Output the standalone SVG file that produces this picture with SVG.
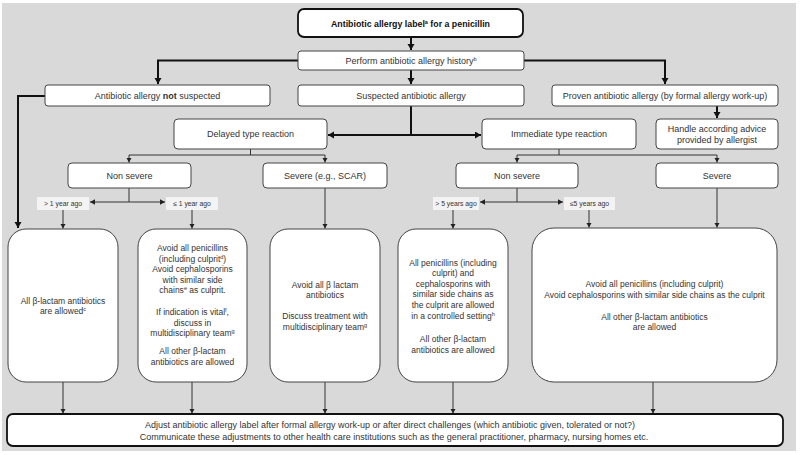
<svg xmlns="http://www.w3.org/2000/svg" width="800" height="455" viewBox="0 0 800 455">
<style>
text{font-family:"Liberation Sans",Arial,sans-serif;fill:#333;text-anchor:middle}
.n{fill:#fff;stroke:#444;stroke-width:1}
.nt{font-size:9px}
.bt{font-size:8.5px}
.lt{font-size:6.8px}
.lb{fill:#f3f3f3;stroke:none}
.thick{fill:none;stroke:#111;stroke-width:2}
.thin{fill:none;stroke:#333;stroke-width:1}
.sup{font-size:5.5px}
</style>
<defs>
<marker id="ak" markerUnits="userSpaceOnUse" markerWidth="8" markerHeight="8" refX="6" refY="3.5" orient="auto"><path d="M0,0 L6,3.5 L0,7 Z" fill="#111"/></marker>
<marker id="an" markerUnits="userSpaceOnUse" markerWidth="7" markerHeight="7" refX="5" refY="2.75" orient="auto"><path d="M0,0 L5,2.75 L0,5.5 Z" fill="#222"/></marker>
</defs>
<rect x="2" y="3" width="794" height="448" fill="#d9d9d9"/>

<g id="connectors">
<path class="thick" d="M411 37 V50" marker-end="url(#ak)"/>
<path class="thick" d="M298 60.5 H158 V84" marker-end="url(#ak)"/>
<path class="thick" d="M524 60.5 H665 V84" marker-end="url(#ak)"/>
<path class="thick" d="M411 70 V84" marker-end="url(#ak)"/>
<path class="thick" d="M45 96 H18 V228" marker-end="url(#ak)"/>
<path class="thick" d="M411 106 V135 H328" marker-end="url(#ak)"/>
<path class="thick" d="M411 135 H481" marker-end="url(#ak)"/>
<path class="thick" d="M717 106 V118" marker-end="url(#ak)"/>

<path class="thin" d="M250.5 149 V155"/>
<path class="thin" d="M129 155 H325"/>
<path class="thin" d="M129 155 V162.5" marker-end="url(#an)"/>
<path class="thin" d="M325 155 V162.5" marker-end="url(#an)"/>
<path class="thin" d="M129 188 V202"/>
<path class="thin" d="M129 202 H90" marker-end="url(#an)"/>
<path class="thin" d="M129 202 H165" marker-end="url(#an)"/>
<path class="thin" d="M63 210 V228.5" marker-end="url(#an)"/>
<path class="thin" d="M192 210 V228.5" marker-end="url(#an)"/>
<path class="thin" d="M325 188 V228.5" marker-end="url(#an)"/>

<path class="thin" d="M559 149 V155"/>
<path class="thin" d="M517 155 H717"/>
<path class="thin" d="M517 155 V162.5" marker-end="url(#an)"/>
<path class="thin" d="M717 155 V162.5" marker-end="url(#an)"/>
<path class="thin" d="M517 188 V202"/>
<path class="thin" d="M517 202 H480" marker-end="url(#an)"/>
<path class="thin" d="M517 202 H563" marker-end="url(#an)"/>
<path class="thin" d="M453 210 V228.5" marker-end="url(#an)"/>
<path class="thin" d="M589 210 V227.5" marker-end="url(#an)"/>
<path class="thin" d="M717 188 V227.5" marker-end="url(#an)"/>

<path class="thin" d="M63 382 V413.5" marker-end="url(#an)"/>
<path class="thin" d="M192 382 V413.5" marker-end="url(#an)"/>
<path class="thin" d="M325 382 V413.5" marker-end="url(#an)"/>
<path class="thin" d="M453 382 V413.5" marker-end="url(#an)"/>
<path class="thin" d="M653 382 V413.5" marker-end="url(#an)"/>
</g>

<g id="title">
<rect x="298" y="9" width="225" height="28" rx="6" fill="#fff" stroke="#111" stroke-width="1.8"/>
<text x="410.5" y="26.5" style="font-size:8.8px;font-weight:bold;fill:#111">Antibiotic allergy label<tspan class="sup" dy="-3">a</tspan><tspan dy="3"> for a penicillin</tspan></text>
</g>
<g id="perform">
<rect class="n" x="298" y="51" width="226" height="19" rx="3"/>
<text class="nt" x="411" y="63.5">Perform  antibiotic allergy history<tspan class="sup" dy="-3">b</tspan></text>
</g>
<g id="not-suspected">
<rect class="n" x="45" y="85" width="225" height="21" rx="3"/>
<text class="nt" x="157.5" y="99">Antibiotic  allergy <tspan font-weight="bold">not</tspan> suspected</text>
</g>
<g id="suspected">
<rect class="n" x="298" y="85" width="226" height="21" rx="3"/>
<text class="nt" x="411" y="99">Suspected antibiotic allergy</text>
</g>
<g id="proven">
<rect class="n" x="552" y="85" width="226" height="21" rx="3"/>
<text class="nt" x="665" y="99">Proven  antibiotic allergy (by formal  allergy work-up)</text>
</g>
<g id="delayed">
<rect class="n" x="174" y="119" width="153" height="30" rx="4"/>
<text class="nt" x="250.5" y="137">Delayed type reaction</text>
</g>
<g id="immediate">
<rect class="n" x="482" y="119" width="154" height="30" rx="4"/>
<text class="nt" x="559" y="137">Immediate type reaction</text>
</g>
<g id="handle">
<rect class="n" x="656" y="119" width="122" height="30" rx="4"/>
<text class="nt" x="717" y="131.5">Handle according advice</text>
<text class="nt" x="717" y="143">provided by allergist</text>
</g>
<g id="nonsevere-delayed">
<rect class="n" x="68" y="163" width="123" height="25" rx="4"/>
<text class="nt" x="129.5" y="178.5">Non severe</text>
</g>
<g id="severe-delayed">
<rect class="n" x="263" y="163" width="124" height="25" rx="4"/>
<text class="nt" x="325" y="178.5">Severe (e.g., SCAR)</text>
</g>
<g id="nonsevere-immediate">
<rect class="n" x="456" y="163" width="122" height="25" rx="4"/>
<text class="nt" x="517" y="178.5">Non severe</text>
</g>
<g id="severe-immediate">
<rect class="n" x="656" y="163" width="122" height="25" rx="4"/>
<text class="nt" x="717" y="178.5">Severe</text>
</g>
<g id="label-gt1">
<rect class="lb" x="37" y="197" width="52" height="13"/>
<text class="lt" x="63" y="206">&gt; 1 year ago</text>
</g>
<g id="label-le1">
<rect class="lb" x="166" y="197" width="52" height="13"/>
<text class="lt" x="192" y="206">≤ 1 year ago</text>
</g>
<g id="label-gt5">
<rect class="lb" x="433" y="197" width="46" height="13"/>
<text class="lt" x="456" y="206">&gt; 5 years ago</text>
</g>
<g id="label-le5">
<rect class="lb" x="564" y="197" width="51" height="13"/>
<text class="lt" x="589.5" y="206">≤5 years ago</text>
</g>

<g id="box1">
<rect class="n" x="8" y="229" width="110" height="153" rx="18"/>
<text class="bt" x="63" y="303.5">All β-lactam antibiotics</text>
<text class="bt" x="63" y="313.5">are allowed<tspan class="sup" dy="-3">c</tspan></text>
</g>
<g id="box2">
<rect class="n" x="138" y="229" width="109" height="153" rx="18"/>
<text class="bt" x="192.5" y="251">Avoid all penicillins</text>
<text class="bt" x="192.5" y="261.5">(including culprit<tspan class="sup" dy="-3">d</tspan><tspan dy="3">)</tspan></text>
<text class="bt" x="192.5" y="272">Avoid cephalosporins</text>
<text class="bt" x="192.5" y="282.5">with similar side</text>
<text class="bt" x="192.5" y="293">chains<tspan class="sup" dy="-3">e</tspan><tspan dy="3"> as culprit.</tspan></text>
<text class="bt" x="192.5" y="315">If indication is vital<tspan class="sup" dy="-3">f</tspan><tspan dy="3">,</tspan></text>
<text class="bt" x="192.5" y="325.5">discuss in</text>
<text class="bt" x="192.5" y="336">multidisciplinary team<tspan class="sup" dy="-3">g</tspan></text>
<text class="bt" x="192.5" y="354">All other β-lactam</text>
<text class="bt" x="192.5" y="364.5">antibiotics are allowed</text>
</g>
<g id="box3">
<rect class="n" x="270" y="229" width="110" height="153" rx="18"/>
<text class="bt" x="325" y="287.5">Avoid all β lactam</text>
<text class="bt" x="325" y="298">antibiotics</text>
<text class="bt" x="325" y="318.5">Discuss treatment with</text>
<text class="bt" x="325" y="329.5">multidisciplinary team<tspan class="sup" dy="-3">g</tspan></text>
</g>
<g id="box4">
<rect class="n" x="398" y="229" width="110" height="153" rx="18"/>
<text class="bt" x="453" y="265.5">All penicillins (including</text>
<text class="bt" x="453" y="276">culprit) and</text>
<text class="bt" x="453" y="286.7">cephalosporins with</text>
<text class="bt" x="453" y="297.4">similar side chains as</text>
<text class="bt" x="453" y="308.1">the culprit are allowed</text>
<text class="bt" x="453" y="318.8">in a controlled setting<tspan class="sup" dy="-3">h</tspan></text>
<text class="bt" x="453" y="341.5">All other β-lactam</text>
<text class="bt" x="453" y="352.5">antibiotics are allowed</text>
</g>
<g id="box5">
<rect class="n" x="532" y="228" width="245" height="154" rx="22"/>
<text class="bt" x="654.5" y="286.5">Avoid all penicillins (including culprit)</text>
<text class="bt" x="654.5" y="297.5">Avoid cephalosporins with similar side chains as the culprit</text>
<text class="bt" x="654.5" y="319.5">All other β-lactam antibiotics</text>
<text class="bt" x="654.5" y="330">are allowed</text>
</g>
<g id="bottom">
<rect x="7" y="414" width="776" height="32" rx="6" fill="#fff" stroke="#111" stroke-width="1.8"/>
<text class="nt" x="390" y="427.5">Adjust antibiotic allergy label after formal  allergy work-up or after direct challenges (which antibiotic given, tolerated or not?)</text>
<text class="nt" x="394" y="440">Communicate these adjustments to other health care institutions such as the general practitioner, pharmacy, nursing homes etc.</text>
</g>
</svg>
